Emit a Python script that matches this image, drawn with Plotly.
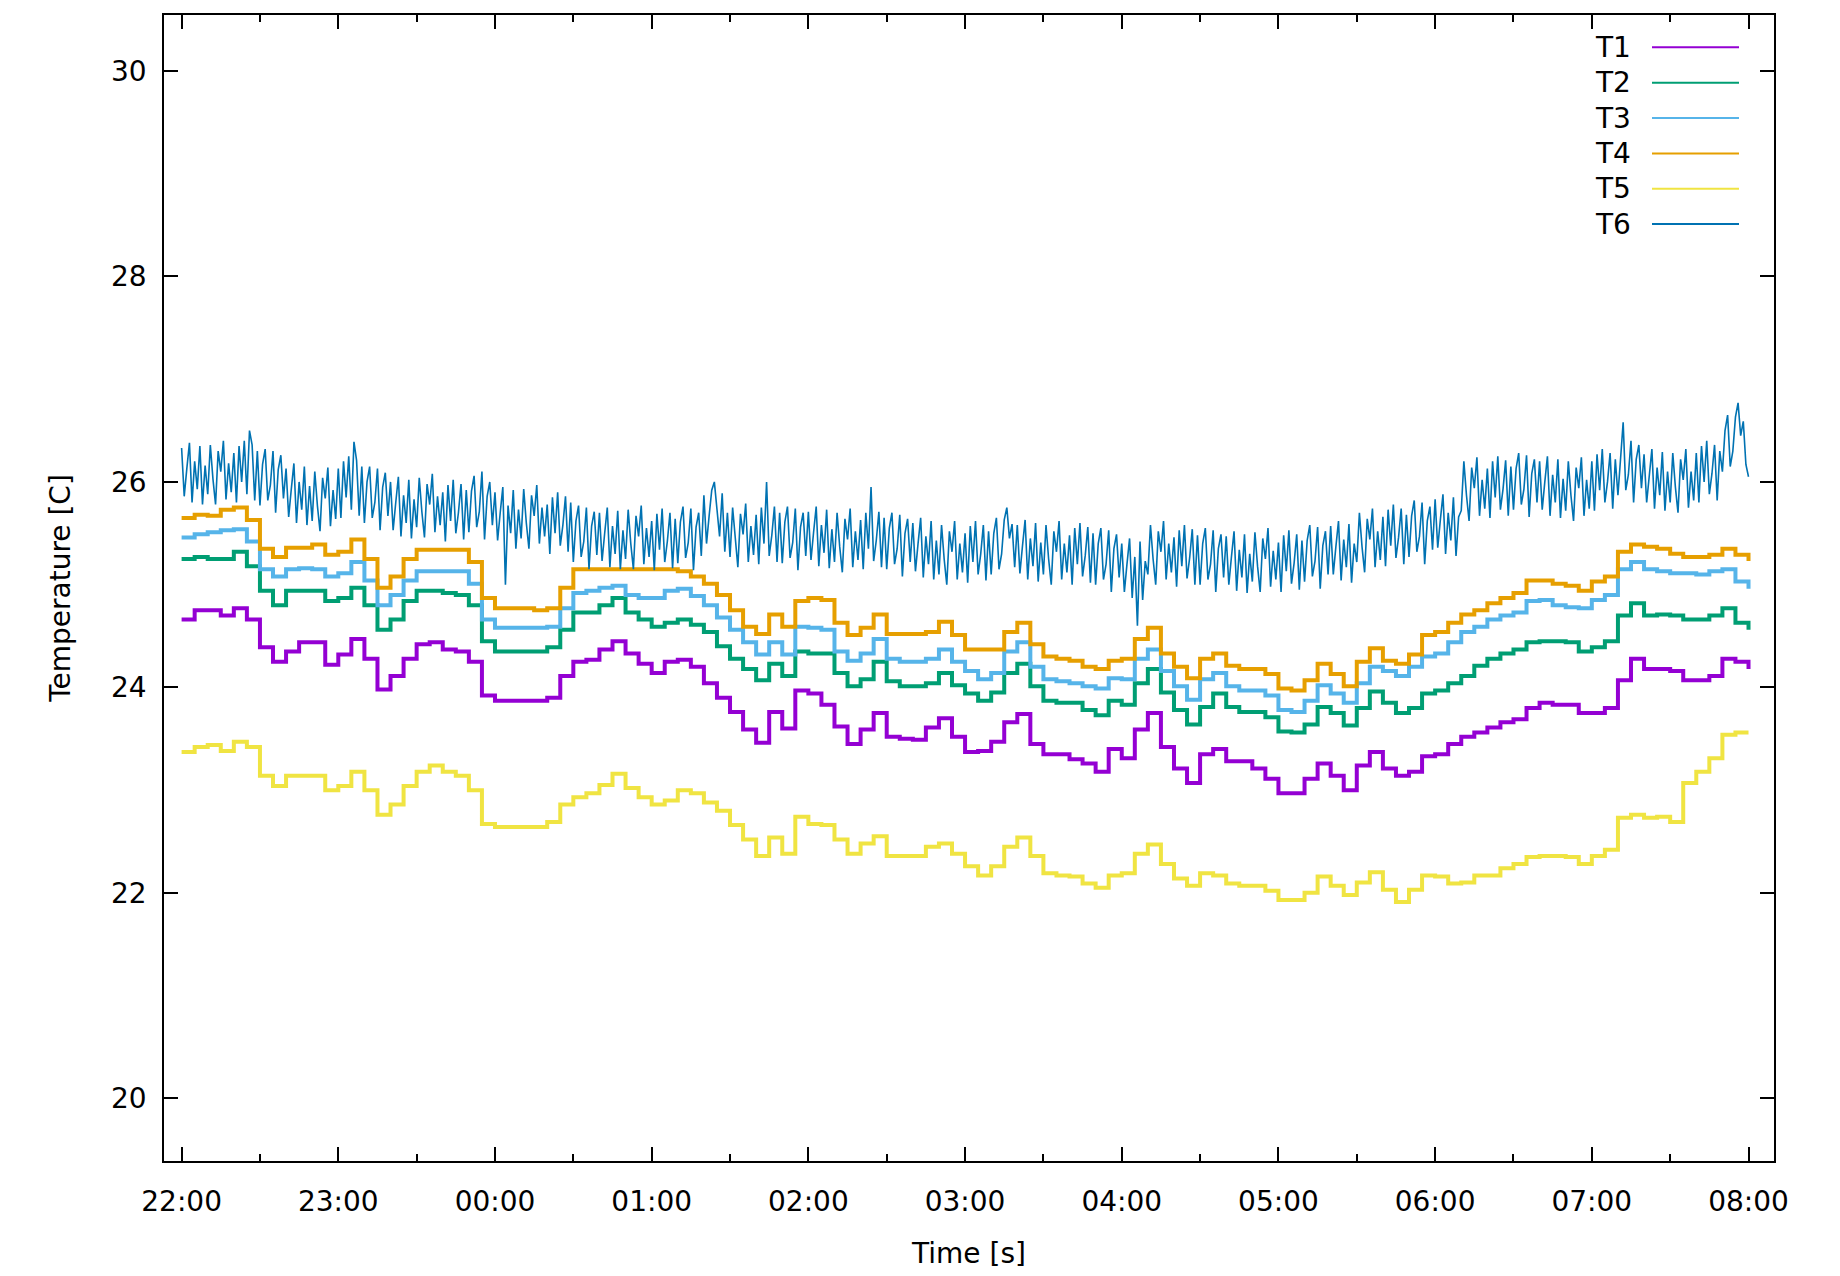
import plotly.graph_objects as go

# ---------------- data ----------------
# sampling grids, minutes after 22:00
minutes_5 = list(range(0, 601, 5))
minutes_1 = list(range(0, 601, 1))

hour_ticks = [0, 60, 120, 180, 240, 300, 360, 420, 480, 540, 600]
hour_labels = ["22:00", "23:00", "00:00", "01:00", "02:00", "03:00",
               "04:00", "05:00", "06:00", "07:00", "08:00"]
half_hour_ticks = [30, 90, 150, 210, 270, 330, 390, 450, 510, 570]
temp_ticks = [20, 22, 24, 26, 28, 30]

T1 = [24.66, 24.75, 24.75, 24.70, 24.77, 24.66, 24.39, 24.25, 24.35, 24.44, 24.44, 24.22,
      24.32, 24.47, 24.28, 23.98, 24.11, 24.28, 24.42, 24.44, 24.37, 24.35, 24.25, 23.92,
      23.87, 23.87, 23.87, 23.87, 23.90, 24.11, 24.25, 24.27, 24.37, 24.45, 24.33, 24.23,
      24.14, 24.25, 24.27, 24.20, 24.04, 23.90, 23.76, 23.59, 23.46, 23.76, 23.60, 23.97,
      23.94, 23.83, 23.62, 23.45, 23.59, 23.75, 23.52, 23.50, 23.49, 23.61, 23.70, 23.52,
      23.37, 23.38, 23.47, 23.66, 23.74, 23.45, 23.35, 23.35, 23.30, 23.26, 23.18, 23.40,
      23.31, 23.59, 23.75, 23.42, 23.21, 23.07, 23.35, 23.40, 23.28, 23.28, 23.21, 23.11,
      22.97, 22.97, 23.11, 23.26, 23.14, 23.00, 23.24, 23.37, 23.21, 23.14, 23.18, 23.33,
      23.35, 23.45, 23.52, 23.56, 23.61, 23.66, 23.69, 23.80, 23.85, 23.83, 23.83, 23.75,
      23.75, 23.80, 24.07, 24.28, 24.18, 24.18, 24.16, 24.07, 24.07, 24.11, 24.28, 24.25,
      24.18]

T2 = [25.25, 25.27, 25.25, 25.25, 25.32, 25.18, 24.94, 24.80, 24.94, 24.94, 24.94, 24.84,
      24.87, 24.97, 24.80, 24.56, 24.66, 24.84, 24.94, 24.94, 24.92, 24.90, 24.80, 24.45,
      24.35, 24.35, 24.35, 24.35, 24.39, 24.56, 24.73, 24.73, 24.80, 24.87, 24.73, 24.66,
      24.59, 24.63, 24.66, 24.61, 24.54, 24.40, 24.28, 24.18, 24.07, 24.23, 24.11, 24.35,
      24.33, 24.33, 24.14, 24.01, 24.08, 24.25, 24.06, 24.01, 24.01, 24.04, 24.14, 24.02,
      23.94, 23.87, 23.95, 24.14, 24.23, 24.01, 23.87, 23.85, 23.85, 23.78, 23.73, 23.87,
      23.83, 24.04, 24.18, 23.95, 23.78, 23.64, 23.81, 23.94, 23.81, 23.76, 23.76, 23.71,
      23.57, 23.56, 23.64, 23.81, 23.75, 23.63, 23.80, 23.96, 23.85, 23.75, 23.80, 23.94,
      23.97, 24.04, 24.11, 24.21, 24.28, 24.33, 24.37, 24.44, 24.45, 24.45, 24.44, 24.35,
      24.39, 24.45, 24.70, 24.82, 24.70, 24.71, 24.70, 24.66, 24.66, 24.70, 24.77, 24.63,
      24.56]

T3 = [25.46, 25.49, 25.51, 25.53, 25.54, 25.42, 25.15, 25.08, 25.15, 25.16, 25.15, 25.08,
      25.11, 25.22, 25.04, 24.80, 24.90, 25.04, 25.13, 25.13, 25.13, 25.13, 25.01, 24.66,
      24.58, 24.58, 24.58, 24.58, 24.59, 24.77, 24.92, 24.94, 24.97, 24.99, 24.90, 24.87,
      24.87, 24.94, 24.96, 24.89, 24.80, 24.68, 24.56, 24.44, 24.32, 24.44, 24.32, 24.59,
      24.58, 24.56, 24.35, 24.26, 24.33, 24.47, 24.28, 24.25, 24.25, 24.28, 24.37, 24.25,
      24.16, 24.08, 24.14, 24.35, 24.44, 24.20, 24.08, 24.06, 24.04, 24.01, 23.99, 24.09,
      24.08, 24.28, 24.37, 24.16, 24.01, 23.88, 24.08, 24.14, 24.01, 23.97, 23.97, 23.92,
      23.78, 23.76, 23.87, 24.02, 23.94, 23.85, 24.04, 24.20, 24.16, 24.11, 24.20, 24.30,
      24.33, 24.44, 24.54, 24.59, 24.66, 24.70, 24.73, 24.84, 24.85, 24.80, 24.78, 24.77,
      24.85, 24.90, 25.15, 25.22, 25.15, 25.13, 25.11, 25.11, 25.10, 25.13, 25.15, 25.03,
      24.96]

T4 = [25.65, 25.68, 25.67, 25.73, 25.75, 25.63, 25.35, 25.27, 25.36, 25.36, 25.39, 25.29,
      25.32, 25.44, 25.25, 24.97, 25.08, 25.25, 25.34, 25.34, 25.34, 25.34, 25.22, 24.87,
      24.77, 24.77, 24.77, 24.75, 24.77, 24.97, 25.15, 25.15, 25.15, 25.15, 25.15, 25.15,
      25.15, 25.15, 25.13, 25.08, 25.01, 24.90, 24.75, 24.59, 24.52, 24.71, 24.59, 24.84,
      24.87, 24.85, 24.63, 24.51, 24.58, 24.71, 24.52, 24.52, 24.52, 24.54, 24.64, 24.51,
      24.37, 24.37, 24.37, 24.54, 24.63, 24.42, 24.30, 24.28, 24.26, 24.20, 24.18, 24.26,
      24.28, 24.47, 24.58, 24.33, 24.20, 24.09, 24.28, 24.33, 24.21, 24.18, 24.18, 24.13,
      23.99, 23.97, 24.07, 24.23, 24.13, 24.01, 24.25, 24.38, 24.26, 24.23, 24.32, 24.51,
      24.54, 24.63, 24.71, 24.75, 24.82, 24.87, 24.92, 25.04, 25.04, 25.01, 24.99, 24.94,
      25.03, 25.08, 25.32, 25.39, 25.37, 25.35, 25.30, 25.27, 25.27, 25.29, 25.35, 25.29,
      25.23]

T5 = [23.37, 23.42, 23.44, 23.38, 23.47, 23.42, 23.14, 23.04, 23.14, 23.14, 23.14, 23.00,
      23.04, 23.18, 23.00, 22.76, 22.86, 23.04, 23.18, 23.24, 23.18, 23.14, 23.00, 22.67,
      22.64, 22.64, 22.64, 22.64, 22.69, 22.86, 22.93, 22.97, 23.05, 23.16, 23.02, 22.93,
      22.86, 22.90, 23.00, 22.97, 22.88, 22.80, 22.66, 22.52, 22.36, 22.54, 22.38, 22.74,
      22.67, 22.66, 22.52, 22.38, 22.48, 22.55, 22.36, 22.36, 22.36, 22.45, 22.48, 22.38,
      22.26, 22.17, 22.26, 22.45, 22.54, 22.36, 22.19, 22.17, 22.16, 22.09, 22.05, 22.17,
      22.19, 22.38, 22.47, 22.28, 22.14, 22.07, 22.19, 22.17, 22.09, 22.07, 22.07, 22.02,
      21.93, 21.93, 22.00, 22.16, 22.07, 21.98, 22.10, 22.20, 22.03, 21.91, 22.03, 22.17,
      22.16, 22.09, 22.10, 22.17, 22.17, 22.24, 22.28, 22.35, 22.36, 22.36, 22.35, 22.28,
      22.36, 22.42, 22.73, 22.76, 22.73, 22.74, 22.69, 23.07, 23.18, 23.31, 23.54, 23.56,
      23.56]

# T6 at 1-minute spacing (rows of 10 minutes), noisy band read by eye
T6 = [26.33, 25.86, 26.13, 26.38, 25.80, 26.20, 25.93, 26.35, 25.78, 26.16,
      25.88, 26.36, 26.03, 25.78, 26.30, 26.10, 26.40, 25.83, 26.18, 25.90,
      26.28, 25.80, 26.35, 26.00, 26.40, 25.88, 26.50, 26.36, 25.82, 26.30,
      25.77, 26.17, 26.32, 25.82, 25.97, 26.30, 25.70, 26.12, 26.26, 25.84,
      26.13, 25.66, 25.93, 26.18, 25.60, 26.00, 25.73, 26.15, 25.58, 25.96,
      25.62, 26.10, 25.77, 25.52, 26.04, 25.84, 26.14, 25.57, 25.92, 25.64,
      26.13, 25.65, 26.20, 25.85, 26.25, 25.73, 26.39, 26.21, 25.67, 26.15,
      25.60, 26.00, 26.15, 25.65, 25.80, 26.13, 25.53, 25.95, 26.09, 25.67,
      26.00, 25.53, 25.80, 26.05, 25.47, 25.87, 25.60, 26.02, 25.45, 25.83,
      25.56, 26.04, 25.71, 25.46, 25.98, 25.78, 26.08, 25.51, 25.86, 25.58,
      25.90, 25.42, 25.97, 25.62, 26.02, 25.50, 25.70, 25.98, 25.44, 25.92,
      25.51, 25.91, 26.06, 25.56, 25.71, 26.10, 25.44, 25.86, 26.00, 25.58,
      25.90, 25.43, 25.70, 25.95, 25.00, 25.77, 25.50, 25.92, 25.35, 25.73,
      25.45, 25.93, 25.60, 25.35, 25.87, 25.67, 25.97, 25.40, 25.75, 25.47,
      25.78, 25.30, 25.85, 25.50, 25.90, 25.38, 25.58, 25.86, 25.32, 25.80,
      25.22, 25.62, 25.77, 25.27, 25.42, 25.75, 25.15, 25.57, 25.71, 25.29,
      25.70, 25.23, 25.50, 25.75, 25.17, 25.57, 25.30, 25.72, 25.15, 25.53,
      25.25, 25.73, 25.40, 25.15, 25.67, 25.47, 25.77, 25.20, 25.55, 25.27,
      25.62, 25.14, 25.69, 25.34, 25.74, 25.22, 25.42, 25.70, 25.16, 25.64,
      25.21, 25.61, 25.76, 25.26, 25.41, 25.74, 25.14, 25.56, 25.70, 25.28,
      25.87, 25.40, 25.67, 25.92, 26.00, 25.74, 25.47, 25.89, 25.32, 25.70,
      25.27, 25.75, 25.42, 25.17, 25.69, 25.49, 25.79, 25.22, 25.57, 25.29,
      25.68, 25.20, 25.75, 25.40, 26.00, 25.28, 25.48, 25.76, 25.22, 25.70,
      25.21, 25.61, 25.76, 25.26, 25.41, 25.74, 25.14, 25.56, 25.70, 25.28,
      25.71, 25.24, 25.51, 25.76, 25.18, 25.58, 25.31, 25.73, 25.16, 25.54,
      25.22, 25.70, 25.37, 25.12, 25.64, 25.44, 25.74, 25.17, 25.52, 25.24,
      25.63, 25.15, 25.70, 25.35, 25.95, 25.23, 25.43, 25.71, 25.17, 25.65,
      25.15, 25.55, 25.70, 25.20, 25.35, 25.68, 25.08, 25.50, 25.64, 25.22,
      25.60, 25.13, 25.40, 25.65, 25.07, 25.47, 25.20, 25.62, 25.05, 25.43,
      25.10, 25.58, 25.25, 25.00, 25.52, 25.32, 25.62, 25.05, 25.40, 25.12,
      25.50, 25.02, 25.57, 25.22, 25.62, 25.10, 25.30, 25.58, 25.04, 25.52,
      25.10, 25.50, 25.65, 25.15, 25.30, 25.63, 25.75, 25.45, 25.59, 25.17,
      25.58, 25.11, 25.38, 25.63, 25.05, 25.45, 25.18, 25.60, 25.03, 25.41,
      25.10, 25.58, 25.25, 25.00, 25.52, 25.32, 25.62, 25.05, 25.40, 25.12,
      25.48, 25.00, 25.55, 25.20, 25.60, 25.08, 25.28, 25.56, 25.02, 25.50,
      25.00, 25.40, 25.55, 25.05, 25.20, 25.53, 24.93, 25.35, 25.49, 25.07,
      25.40, 24.93, 25.20, 25.45, 24.87, 25.27, 24.60, 25.42, 24.85, 25.23,
      25.10, 25.58, 25.25, 25.00, 25.52, 25.32, 25.62, 25.05, 25.40, 25.12,
      25.46, 24.98, 25.53, 25.18, 25.58, 25.06, 25.26, 25.54, 25.00, 25.48,
      25.00, 25.40, 25.55, 25.05, 25.20, 25.53, 24.93, 25.35, 25.49, 25.07,
      25.47, 25.00, 25.27, 25.52, 24.94, 25.34, 25.07, 25.49, 24.92, 25.30,
      25.03, 25.51, 25.18, 24.93, 25.45, 25.25, 25.55, 24.98, 25.33, 25.05,
      25.41, 24.93, 25.48, 25.13, 25.53, 25.01, 25.21, 25.49, 24.95, 25.43,
      25.03, 25.43, 25.58, 25.08, 25.23, 25.56, 24.96, 25.38, 25.52, 25.10,
      25.57, 25.10, 25.37, 25.62, 25.04, 25.44, 25.17, 25.59, 25.02, 25.40,
      25.22, 25.70, 25.37, 25.12, 25.64, 25.44, 25.74, 25.17, 25.52, 25.24,
      25.66, 25.18, 25.73, 25.38, 25.78, 25.26, 25.46, 25.74, 25.20, 25.68,
      25.27, 25.67, 25.82, 25.32, 25.47, 25.80, 25.20, 25.62, 25.76, 25.34,
      25.83, 25.36, 25.63, 25.88, 25.30, 25.70, 25.43, 25.85, 25.28, 25.66,
      25.72, 26.20, 25.87, 25.62, 26.14, 25.94, 26.24, 25.67, 26.02, 25.74,
      26.13, 25.65, 26.20, 25.85, 26.25, 25.73, 25.93, 26.21, 25.67, 26.15,
      25.73, 26.13, 26.28, 25.78, 25.93, 26.26, 25.66, 26.08, 26.22, 25.80,
      26.20, 25.73, 26.00, 26.25, 25.67, 26.07, 25.80, 26.22, 25.65, 26.03,
      25.72, 26.20, 25.87, 25.62, 26.14, 25.94, 26.24, 25.67, 26.02, 25.74,
      26.20, 25.72, 26.27, 25.92, 26.32, 25.80, 26.00, 26.28, 25.74, 26.22,
      25.87, 26.27, 26.58, 25.92, 26.07, 26.40, 25.80, 26.22, 26.36, 25.94,
      26.27, 25.80, 26.07, 26.32, 25.74, 26.14, 25.87, 26.29, 25.72, 26.10,
      25.80, 26.28, 25.95, 25.70, 26.22, 26.02, 26.32, 25.75, 26.10, 25.82,
      26.28, 25.80, 26.35, 26.00, 26.40, 25.88, 26.08, 26.36, 25.82, 26.30,
      26.10, 26.50, 26.65, 26.15, 26.30, 26.63, 26.77, 26.45, 26.59, 26.17,
      26.05]

series_names = ["T1", "T2", "T3", "T4", "T5", "T6"]
series_colors = ["#9400d3", "#009e73", "#56b4e9", "#e69f00", "#f0e442", "#0072b2"]

# ---------------- figure ----------------
W, H = 1840, 1276
ML, MR, MT, MB = 164, 66, 15, 110
FONT = "DejaVu Sans"
FS = 28

fig = go.Figure()
series_data = [(minutes_5, T1), (minutes_5, T2), (minutes_5, T3),
               (minutes_5, T4), (minutes_5, T5), (minutes_1, T6)]
for (xs, ys), name, col in zip(series_data, series_names, series_colors):
    is_t6 = name == "T6"
    fig.add_trace(go.Scatter(
        x=xs, y=ys, name=name, mode="lines",
        line=dict(color=col, width=1.6 if is_t6 else 4.0,
                  shape="linear" if is_t6 else "hv"),
        showlegend=False,
    ))

axis_common = dict(
    showline=True, linecolor="black", linewidth=1.5, mirror="allticks",
    ticks="inside", ticklen=14, tickwidth=1.5, tickcolor="black",
    showgrid=False, zeroline=False,
    tickfont=dict(family=FONT, size=FS, color="black"),
    title_font=dict(family=FONT, size=FS, color="black"),
)

fig.update_xaxes(
    range=[-6.74, 609.76], tickmode="array",
    tickvals=hour_ticks, ticktext=hour_labels,
    minor=dict(tickmode="array", tickvals=half_hour_ticks, ticks="inside",
               ticklen=7, tickwidth=1.5, tickcolor="black", showgrid=False),
    title=dict(text="Time [s]", standoff=26),
    ticklabelstandoff=15,
    **axis_common,
)
fig.update_yaxes(
    range=[19.39, 30.545], tickmode="array",
    tickvals=temp_ticks, ticktext=[str(v) for v in temp_ticks],
    title=dict(text="Temperature [C]", standoff=32),
    ticklabelstandoff=10,
    **axis_common,
)

# gnuplot-style key: label right-aligned, sample line to its right
plot_w = W - ML - MR
plot_h = H - MT - MB
def px_x(px):
    return (px - ML) / plot_w
def px_y(py):
    return (H - MB - py) / plot_h

key_rows_px = [47.5, 83, 118.5, 154, 189.5, 225]
for name, col, ry in zip(series_names, series_colors, key_rows_px):
    fig.add_annotation(
        x=px_x(1633), y=px_y(ry), xref="paper", yref="paper",
        text=name, showarrow=False, xanchor="right", yanchor="middle",
        font=dict(family=FONT, size=FS, color="black"),
    )
    fig.add_shape(
        type="line", xref="paper", yref="paper",
        x0=px_x(1652), x1=px_x(1739), y0=px_y(ry), y1=px_y(ry),
        line=dict(color=col, width=2),
    )

fig.update_layout(
    width=W, height=H,
    margin=dict(l=ML, r=MR, t=MT, b=MB),
    paper_bgcolor="white", plot_bgcolor="white",
    font=dict(family=FONT, size=FS, color="black"),
)

fig.write_html("out.html")
